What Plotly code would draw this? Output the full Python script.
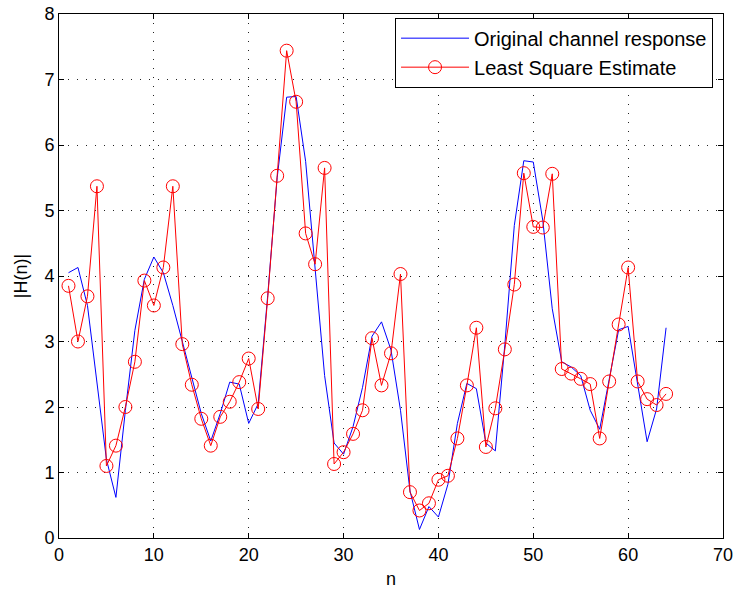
import plotly.graph_objects as go

n = list(range(1, 65))

original = [4.05, 4.13, 3.55, 2.40, 1.20, 0.62, 1.95, 3.17, 3.95, 4.29,
            4.05, 3.55, 3.00, 2.45, 1.90, 1.48, 1.90, 2.38, 2.35, 1.75,
            2.05, 3.70, 5.50, 6.73, 6.74, 5.75, 4.10, 2.48, 1.45, 1.28,
            1.70, 2.30, 3.08, 3.30, 2.87, 1.95, 0.72, 0.13, 0.48, 0.32,
            0.82, 1.75, 2.36, 2.28, 1.45, 1.33, 2.95, 4.77, 5.76, 5.74,
            4.85, 3.50, 2.69, 2.61, 2.48, 1.95, 1.66, 2.40, 3.18, 3.23,
            2.38, 1.47, 1.97, 3.21]

estimate = [3.85, 3.00, 3.69, 5.37, 1.10, 1.41, 2.00, 2.69, 3.93, 3.55,
            4.13, 5.37, 2.96, 2.34, 1.82, 1.41, 1.85, 2.08, 2.38, 2.74,
            1.97, 3.66, 5.53, 7.44, 6.66, 4.65, 4.18, 5.65, 1.13, 1.31,
            1.59, 1.95, 3.05, 2.33, 2.82, 4.03, 0.70, 0.42, 0.53, 0.89,
            0.95, 1.52, 2.33, 3.21, 1.39, 1.98, 2.88, 3.87, 5.57, 4.75,
            4.74, 5.56, 2.58, 2.51, 2.43, 2.35, 1.52, 2.39, 3.26, 4.13,
            2.39, 2.12, 2.03, 2.20]

x_ticks = [0, 10, 20, 30, 40, 50, 60, 70]
y_ticks = [0, 1, 2, 3, 4, 5, 6, 7, 8]

FONT = "Liberation Sans, Arial, Helvetica, sans-serif"

fig = go.Figure()
fig.add_trace(go.Scatter(
    x=n, y=original, mode="lines", name="Original channel response",
    line=dict(color="#0000FF", width=1),
))
fig.add_trace(go.Scatter(
    x=n, y=estimate, mode="lines+markers", name="Least Square Estimate",
    line=dict(color="#FF0000", width=1),
    marker=dict(symbol="circle-open", size=13, color="#FF0000", line=dict(width=1)),
))

axis_common = dict(
    showline=True, linecolor="black", linewidth=1, mirror="ticks",
    ticks="inside", ticklen=5, tickcolor="black",
    showgrid=True, gridcolor="#222222", gridwidth=1, griddash="1px,8px",
    zeroline=False, automargin=False,
    tickfont=dict(family=FONT, size=18, color="black"),
)

fig.update_layout(
    width=739, height=595,
    margin=dict(l=59, r=16, t=14, b=57),
    paper_bgcolor="white", plot_bgcolor="white",
    font=dict(family=FONT, color="black"),
    xaxis=dict(range=[0, 70], tickvals=x_ticks,
               title=dict(text="n", font=dict(size=18), standoff=8), **axis_common),
    yaxis=dict(range=[0, 8], tickvals=y_ticks,
               title=dict(text="|H(n)|", font=dict(size=18), standoff=12), **axis_common),
    legend=dict(x=0.985, xanchor="right", y=0.993, yanchor="top",
                bgcolor="white", bordercolor="black", borderwidth=1,
                font=dict(family=FONT, size=20, color="black"),
                tracegroupgap=0, itemwidth=68),
    showlegend=True,
)

fig.write_html("out.html")
